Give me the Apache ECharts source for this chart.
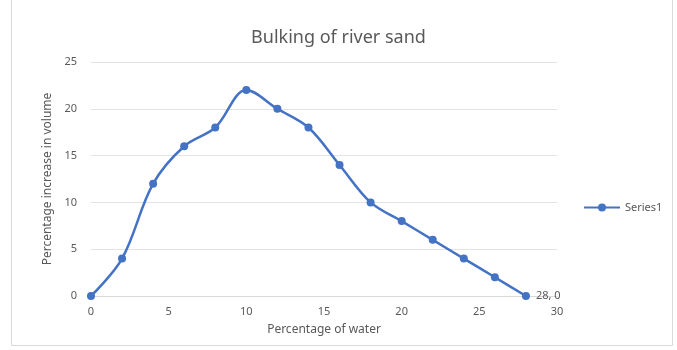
<!DOCTYPE html>
<html>
<head>
<meta charset="utf-8">
<script src="https://cdn.jsdelivr.net/npm/echarts@6/dist/echarts.min.js"></script>
<style>
  html, body { margin: 0; padding: 0; background: #fff; }
  #chart { width: 677px; height: 350px; }
</style>
</head>
<body>
<div id="chart"></div>
<script>
// Water content (%) against increase in volume (%) for river sand
const waterPct = [0, 2, 4, 6, 8, 10, 12, 14, 16, 18, 20, 22, 24, 26, 28];
const volumeIncrease = [0, 4, 12, 16, 18, 22, 20, 18, 14, 10, 8, 6, 4, 2, 0];
const xTicks = [0, 5, 10, 15, 20, 25, 30];
const yTicks = [0, 5, 10, 15, 20, 25];

const points = waterPct.map((x, i) => [x, volumeIncrease[i]]);
const lastIdx = points.length - 1;

const font = '"Noto Sans", "Open Sans", sans-serif';
const textColor = '#595959';
const lineColor = '#4472C4';

const chart = echarts.init(document.getElementById('chart'), null, { renderer: 'canvas' });
chart.setOption({
  animation: false,
  backgroundColor: '#fff',
  title: {
    text: 'Bulking of river sand',
    left: 'center',
    top: 24,
    textStyle: { color: textColor, fontFamily: font, fontSize: 18, fontWeight: 'normal' }
  },
  legend: {
    orient: 'vertical',
    left: 578,
    top: 197,
    itemWidth: 36,
    itemHeight: 10,
    textStyle: { color: textColor, fontFamily: font, fontSize: 11 },
    data: ['Series1']
  },
  grid: { left: 91, right: 120, top: 62, bottom: 54, containLabel: false },
  xAxis: {
    type: 'value',
    min: xTicks[0],
    max: xTicks[xTicks.length - 1],
    interval: 5,
    name: 'Percentage of water',
    nameLocation: 'middle',
    nameGap: 28,
    nameTextStyle: { color: textColor, fontFamily: font, fontSize: 12 },
    axisLine: { show: true, lineStyle: { color: '#d9d9d9', width: 1 } },
    axisTick: { show: false },
    splitLine: { show: false },
    axisLabel: { color: textColor, fontFamily: font, fontSize: 11, margin: 10 }
  },
  yAxis: {
    type: 'value',
    min: yTicks[0],
    max: yTicks[yTicks.length - 1],
    interval: 5,
    name: 'Percentage increase in volume',
    nameLocation: 'middle',
    nameGap: 34,
    nameTextStyle: { color: textColor, fontFamily: font, fontSize: 12 },
    axisLine: { show: false },
    axisTick: { show: false },
    splitLine: { show: true, lineStyle: { color: '#e3e3e3', width: 1 } },
    axisLabel: { color: textColor, fontFamily: font, fontSize: 11, margin: 14 }
  },
  series: [{
    name: 'Series1',
    type: 'line',
    smooth: 0.35,
    data: points,
    symbol: 'circle',
    symbolSize: 8,
    lineStyle: { color: lineColor, width: 2.5 },
    itemStyle: { color: lineColor },
    label: {
      show: true,
      position: 'right',
      distance: 6,
      color: textColor,
      fontFamily: font,
      fontSize: 11,
      formatter: (p) => p.dataIndex === lastIdx ? p.value[0] + ', ' + p.value[1] : ''
    }
  }],
  graphic: [{
    type: 'rect',
    shape: { x: 11.5, y: -2, width: 661, height: 347.5 },
    style: { fill: 'none', stroke: '#d9d9d9', lineWidth: 1 },
    silent: true
  }]
});
</script>
</body>
</html>
